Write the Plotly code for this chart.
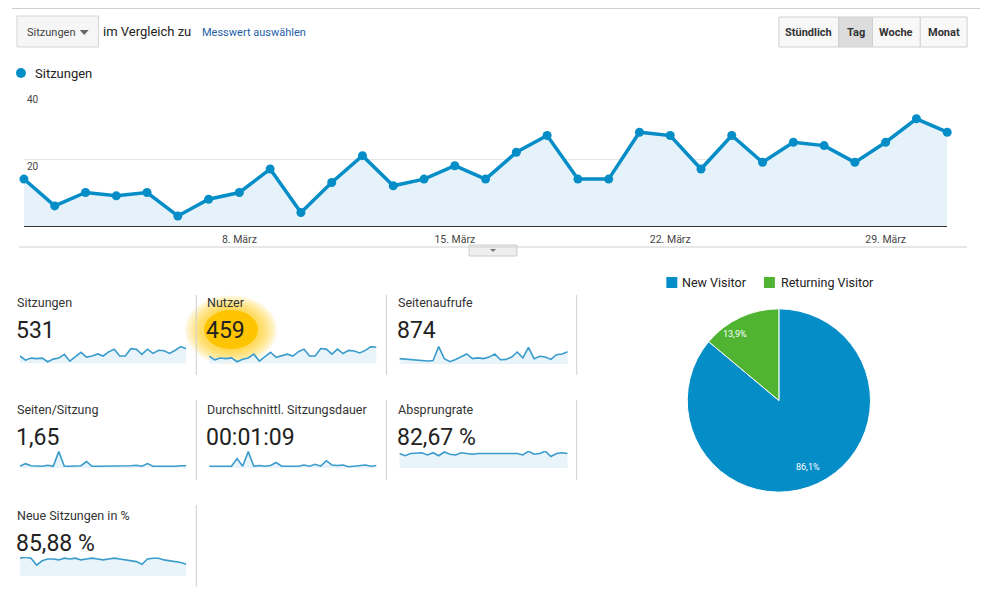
import plotly.graph_objects as go

W, H = 988, 614
OFF = 8  # page body margin

# Tagesdaten März
tage = list(range(1, 32))
sitzungen = [14, 6, 10, 9, 10, 3, 8, 10, 17, 4, 13, 21, 12, 14, 18, 14, 22, 27, 14, 14,
             28, 27, 17, 27, 19, 25, 24, 19, 25, 32, 28]
nutzer = [12, 6, 9, 8, 9, 3, 7, 9, 15, 4, 11, 18, 10, 12, 15, 12, 19, 23, 12, 12,
          24, 23, 15, 23, 16, 21, 20, 17, 21, 27, 26]
seitenaufrufe = [24, 23, 22, 21, 20, 18, 19, 55, 24, 16, 22, 29, 36, 24, 26, 24, 28, 36, 21, 22,
                 28, 41, 26, 53, 24, 30, 28, 22, 34, 36, 42]
seiten_pro_sitzung = [1.5, 1.75, 1.55, 1.5, 1.5, 1.6, 1.5, 2.9, 1.5, 1.5, 1.5, 1.55, 1.95, 1.5, 1.5,
                      1.5, 1.5, 1.5, 1.5, 1.5, 1.55, 1.6, 1.5, 1.75, 1.5, 1.5, 1.5, 1.45, 1.5, 1.55, 1.55]
sitzungsdauer_sek = [50, 50, 50, 50, 50, 175, 50, 290, 50, 60, 50, 60, 110, 50, 50, 50, 50, 70, 50, 80,
                     50, 140, 70, 60, 70, 40, 50, 60, 70, 50, 60]
absprungrate = [84, 81, 84, 85, 85, 82, 85, 81, 86, 83, 82, 85, 84, 83, 84, 84, 84, 85, 85, 85,
                85, 84, 82, 87, 83, 84, 87, 80, 84, 85, 84]
neue_sitzungen = [89, 90, 89, 81, 86, 88, 88, 87, 89, 88, 89, 87, 88, 89, 88, 87, 88, 89, 88, 87,
                  86, 85, 82, 88, 89, 89, 87, 86, 85, 84, 82]

tick_tage = [1, 8, 15, 22, 29]
tick_text = ["...", "8. März", "15. März", "22. März", "29. März"]

kpi_titel = ["Sitzungen", "Nutzer", "Seitenaufrufe", "Seiten/Sitzung",
             "Durchschnittl. Sitzungsdauer", "Absprungrate", "Neue Sitzungen in %"]
kpi_werte = ["531", "459", "874", "1,65", "00:01:09", "82,67 %", "85,88 %"]
kpi_reihen = [sitzungen, nutzer, seitenaufrufe, seiten_pro_sitzung,
              sitzungsdauer_sek, absprungrate, neue_sitzungen]

besucher = ["New Visitor", "Returning Visitor"]
besucher_anteil = [86.1, 13.9]

BLUE = "#058dc7"
GREEN = "#50b432"
FONT = "Roboto, Arial, sans-serif"


def px(x):
    return (x - OFF) / W


def py(y):
    return 1 - (y - OFF) / H


fig = go.Figure()
shapes = []
annos = []


def text(x, y, s, size=12, color="#333", xa="left", ya="middle", bold=False):
    if bold:
        s = "<b>" + s + "</b>"
    annos.append(dict(x=px(x), y=py(y), xref="paper", yref="paper", text=s, showarrow=False,
                      xanchor=xa, yanchor=ya, font=dict(size=size, color=color, family=FONT)))


def rect(x0, y0, x1, y1, fill="white", line="#ccc", width=1, layer="below"):
    shapes.append(dict(type="rect", xref="paper", yref="paper", x0=px(x0), x1=px(x1),
                       y0=py(y1), y1=py(y0), fillcolor=fill, line=dict(color=line, width=width),
                       layer=layer))


def line(x0, y0, x1, y1, color="#ccc", width=1):
    shapes.append(dict(type="line", xref="paper", yref="paper", x0=px(x0), x1=px(x1),
                       y0=py(y0), y1=py(y1), line=dict(color=color, width=width)))


# top border
line(8, 8.5, 988, 8.5, "#cfcfcf")

# dropdown + vergleich
rect(13, 16, 95, 47, fill="#f6f6f6", line="#d6d6d6")
text(21, 32, "Sitzungen", 11, "#444")
shapes.append(dict(type="path", xref="paper", yref="paper",
                   path="M %f %f L %f %f L %f %f Z" % (px(76), py(30), px(85), py(30), px(80.5), py(35)),
                   fillcolor="#666", line=dict(width=0)))
text(97, 31, "im Vergleich zu", 13, "#222")
text(197, 32, "Messwert auswählen", 11, "#1e5fa8")

# buttons
for (x0, x1, lab, fill) in [(778, 838, "Stündlich", "#f8f8f8"), (838, 872, "Tag", "#dcdcdc"),
                            (872, 920, "Woche", "#f8f8f8"), (920, 967, "Monat", "#f8f8f8")]:
    rect(x0, 17, x1, 47, fill=fill, line="#d0d0d0")
    text((x0 + x1) / 2, 32, lab, 11, "#333", xa="center", bold=True)

# legend of main chart
shapes.append(dict(type="circle", xref="paper", yref="paper", x0=px(12), x1=px(22),
                   y0=py(78), y1=py(68), fillcolor=BLUE, line=dict(width=0)))
text(29, 73, "Sitzungen", 13, "#222")

# main chart
fig.add_trace(go.Scatter(x=tage, y=sitzungen, mode="lines+markers", fill="tozeroy",
                         fillcolor="#e6f2fa", line=dict(color=BLUE, width=3.5),
                         marker=dict(size=9, color=BLUE), cliponaxis=False,
                         showlegend=False, hoverinfo="x+y"))

# separator under main chart
line(15, 247, 967, 247, "#d0d0d0")
rect(467, 245, 515, 256, fill="#eeeeee", line="#cccccc")
shapes.append(dict(type="path", xref="paper", yref="paper",
                   path="M %f %f L %f %f L %f %f Z" % (px(488), py(249), px(494), py(249), px(491), py(252)),
                   fillcolor="#777", line=dict(width=0)))

# scorecards
cols = [11, 202, 394]
rows = [(302, 330, 346, 364), (409, 437, 451, 468), (515, 543, 557, 576)]
spark_x = [(16, 183), (206, 374), (397, 566)]
pad = [0.15, 0.15, 0.15, 0.08, 0.08, 2.2, 1.4]

# highlight glow behind "459"
for r in range(46, 20, -3):
    shapes.append(dict(type="circle", xref="paper", yref="paper",
                       x0=px(228 - r), x1=px(228 + r), y0=py(330 + r * 0.75), y1=py(330 - r * 0.75),
                       fillcolor="rgba(255,200,0,0.14)", line=dict(width=0), layer="below"))
shapes.append(dict(type="circle", xref="paper", yref="paper",
                   x0=px(201), x1=px(255), y0=py(349), y1=py(310),
                   fillcolor="#ffc400", line=dict(width=0), layer="below"))

for k in range(7):
    r, c = divmod(k, 3)
    ty, vy, sy0, sy1 = rows[r]
    text(cols[c], ty, kpi_titel[k], 12.5, "#333")
    text(cols[c] - 1, vy, kpi_werte[k], 23, "#222")
    ax = k + 2
    vals = kpi_reihen[k]
    lo, hi = min(vals), max(vals)
    span = hi - lo
    fig.add_trace(go.Scatter(x=tage, y=vals, mode="lines", fill="tozeroy",
                             fillcolor="#e8f3fa", line=dict(color="#3a9ccc", width=1.6),
                             xaxis="x%d" % ax, yaxis="y%d" % ax, showlegend=False,
                             hoverinfo="skip"))
    x0, x1 = spark_x[c]
    fig.layout["xaxis%d" % ax] = dict(domain=[px(x0), px(x1)], range=[1, 31], visible=False,
                                      anchor="y%d" % ax, fixedrange=True)
    fig.layout["yaxis%d" % ax] = dict(domain=[py(sy1), py(sy0)], visible=False,
                                      range=[lo - pad[k] * span, hi + 0.04 * span],
                                      anchor="x%d" % ax, fixedrange=True)

# vertical separators
for (y0, y1, xs) in [(295, 375, [193, 384, 575]), (400, 480, [193, 384, 575]), (505, 587, [193])]:
    for x in xs:
        line(x, y0, x, y1, "#cfcfcf")

# pie
fig.add_trace(go.Pie(labels=besucher, values=besucher_anteil, sort=False, direction="clockwise",
                     rotation=0, marker=dict(colors=[BLUE, GREEN], line=dict(color="white", width=1)),
                     textinfo="none",
                     domain=dict(x=[px(686), px(870)], y=[py(493), py(308)]),
                     showlegend=False, hoverinfo="label+percent"))
for (lx, ly), v in zip([(807, 467), (734, 334)], besucher_anteil):
    text(lx, ly, ("%.1f%%" % v).replace(".", ","), 9, "white", xa="center")

# pie legend
rect(665, 277, 676, 288, fill=BLUE, line=BLUE, width=0)
text(679, 282, "New Visitor", 12.5, "#222")
rect(763, 277, 774, 288, fill=GREEN, line=GREEN, width=0)
text(778, 282, "Returning Visitor", 12.5, "#222")

fig.update_layout(
    width=W, height=H,
    margin=dict(l=0, r=0, t=0, b=0),
    paper_bgcolor="white", plot_bgcolor="white",
    separators=",.",
    font=dict(family=FONT),
    xaxis=dict(domain=[px(20), px(947)], range=[1, 31], tickvals=tick_tage, ticktext=tick_text,
               showgrid=False, zeroline=False, showline=True, linecolor="#333", linewidth=1,
               ticks="outside", ticklen=3, tickcolor="rgba(0,0,0,0)",
               tickfont=dict(size=10.5, color="#444"), fixedrange=True),
    yaxis=dict(domain=[py(226), py(92)], range=[0, 40], tickvals=[20, 40],
               ticklabelposition="inside bottom", showgrid=True, gridcolor="#e6e6e6",
               zeroline=False, tickfont=dict(size=10, color="#444"), fixedrange=True),
    shapes=shapes,
    annotations=annos,
    hovermode="closest",
)

fig.write_html("out.html")
